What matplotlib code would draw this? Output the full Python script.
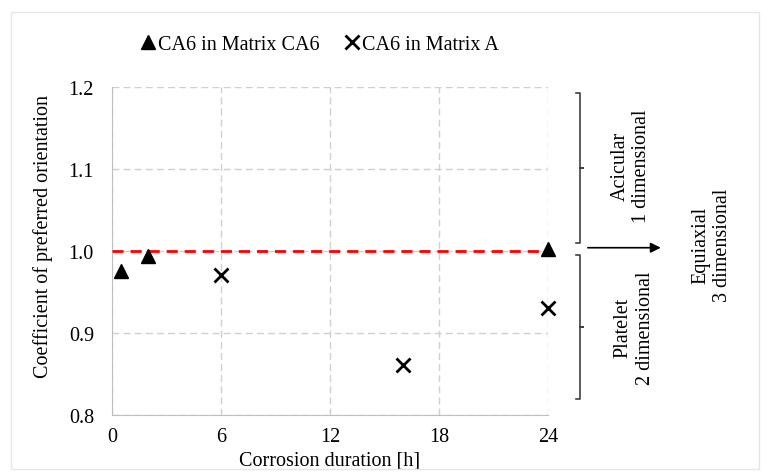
import matplotlib
matplotlib.use("Agg")
import matplotlib.pyplot as plt
from matplotlib.patches import Rectangle

plt.rcParams['font.family'] = ['Liberation Serif', 'DejaVu Serif']

# data
t_ca6 = [0.5, 2, 24]
c_ca6 = [0.976, 0.994, 1.002]
t_a = [6, 16, 24]
c_a = [0.971, 0.861, 0.930]
xticks = [0, 6, 12, 18, 24]
yticks = [0.8, 0.9, 1.0, 1.1, 1.2]

fs = 14.5

fig = plt.figure(figsize=(7.69, 4.77), dpi=100)
fig.patches.append(Rectangle((11/769, 1 - 470/477), 748/769, 457/477,
                             transform=fig.transFigure, fill=False,
                             edgecolor='#e6e6e6', lw=1))
ax = fig.add_axes([112/769, 1 - 416/477, 436/769, 328/477])

ax.plot([0, 24], [1.0, 1.0], color='red', ls=(0, (4, 2.5)), lw=2, zorder=3)
ax.plot(t_ca6, c_ca6, ls='none', marker='^', ms=10, color='black',
        label='CA6 in Matrix CA6', zorder=4, clip_on=False)
ax.plot(t_a, c_a, ls='none', marker='x', ms=10, mew=2, color='black',
        label='CA6 in Matrix A', zorder=4, clip_on=False)

ax.set_xlim(0, 24)
ax.set_ylim(0.8, 1.2)
ax.set_xticks(xticks)
ax.set_yticks(yticks)
ax.set_yticklabels([f'{v:.1f}' for v in yticks])
ax.tick_params(length=0, labelsize=fs)
ax.tick_params(axis='y', pad=13)
ax.tick_params(axis='x', pad=9)
ax.grid(True, color='#d0d0d0', ls=(0, (5, 3)), lw=1)
for s in ['top', 'right']:
    ax.spines[s].set_visible(False)
for s in ['left', 'bottom']:
    ax.spines[s].set_color('#bfbfbf')
ax.set_xlabel('Corrosion duration [h]', fontsize=fs, labelpad=3)
ax.set_ylabel('Coefficient of preferred orientation', fontsize=fs)
ax.yaxis.set_label_coords(-0.135, 0.546)

ax.legend(loc='lower center', bbox_to_anchor=(0.475, 1.045), ncol=2, frameon=False,
          fontsize=fs, handlelength=0.8, handletextpad=0.1, columnspacing=1.2)

# braces and arrow on the right
tr = ax.get_yaxis_transform()
bx, hk = 1.073, 0.008
for y0, y1 in [(1.193, 1.010), (0.995, 0.819)]:
    ym = (y0 + y1) / 2
    ax.plot([bx - hk, bx, bx, bx + hk, bx, bx, bx - hk],
            [y0, y0, ym, ym, ym, y1, y1], transform=tr, color='#404040',
            lw=1.2, clip_on=False)
ax.annotate('', xy=(1.265, 1.004), xytext=(1.085, 1.004), xycoords=tr,
            textcoords=tr, arrowprops=dict(arrowstyle='-|>', color='black',
                                           lw=1.2, mutation_scale=15))
ax.text(1.19, 1.105, 'Acicular\n1 dimensional', transform=tr, rotation=90,
        ha='center', va='center', fontsize=fs, linespacing=1.2)
ax.text(1.198, 0.907, 'Platelet\n2 dimensional', transform=tr, rotation=90,
        ha='center', va='center', fontsize=fs, linespacing=1.2)
ax.text(1.376, 1.008, 'Equiaxial\n3 dimensional', transform=tr, rotation=90,
        ha='center', va='center', fontsize=fs, linespacing=1.2)

fig.savefig('out.png', dpi=100)
